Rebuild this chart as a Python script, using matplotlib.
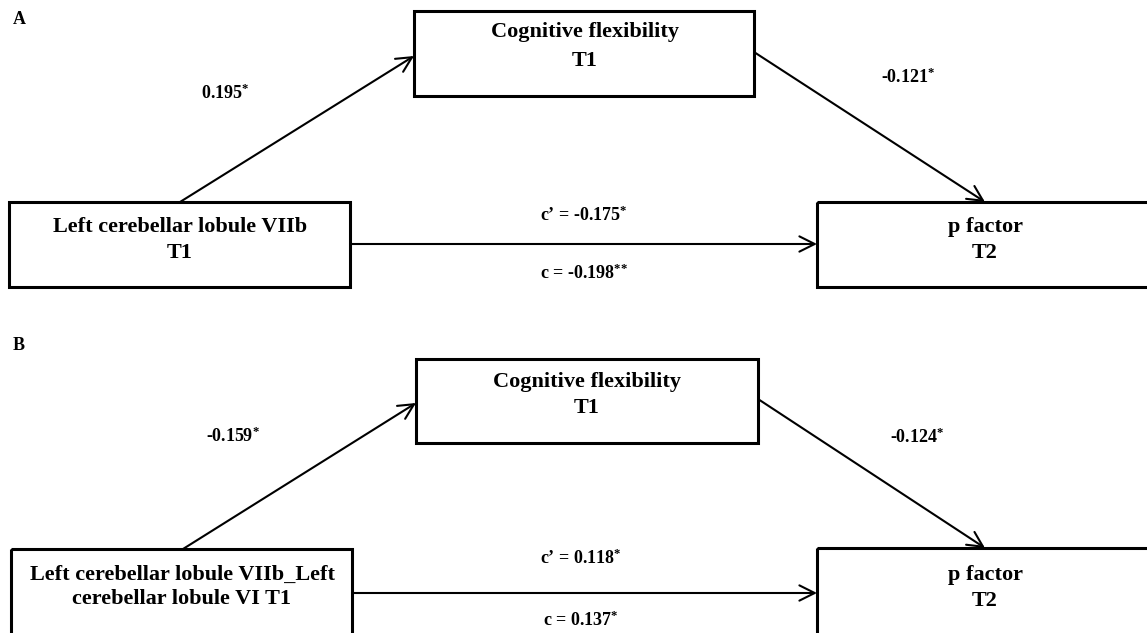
import matplotlib
matplotlib.use('Agg')
import matplotlib.pyplot as plt
from matplotlib.patches import Rectangle, FancyArrowPatch

plt.rcParams['font.family'] = ['Liberation Serif', 'DejaVu Serif']
plt.rcParams['font.weight'] = 'bold'
plt.rcParams['mathtext.fontset'] = 'custom'
plt.rcParams['mathtext.rm'] = 'Liberation Serif:bold'
plt.rcParams['mathtext.it'] = 'Liberation Serif:bold'
plt.rcParams['mathtext.bf'] = 'Liberation Serif:bold'

# mediation model values
panels = ['A', 'B']
predictors = ['Left cerebellar lobule VIIb\nT1',
              'Left cerebellar lobule VIIb_Left\ncerebellar lobule VI T1']
mediator = 'Cognitive flexibility\nT1'
outcome = 'p factor\nT2'
a_paths = [0.195, -0.159]
a_sig = ['*', '*']
b_paths = [-0.121, -0.124]
b_sig = ['*', '*']
c_prime = [-0.175, 0.118]
c_prime_sig = ['*', '*']
c_total = [-0.198, 0.137]
c_total_sig = ['**', '*']

W, H = 1147, 633
fig = plt.figure(figsize=(W / 100, H / 100), dpi=100)
ax = fig.add_axes([0, 0, 1, 1])
ax.set_xlim(0, W)
ax.set_ylim(H, 0)
ax.axis('off')

box_lw = 2.2
line_lw = 1.5
box_fs = 16
num_fs = 13


def coef(v, sig):
    # group each star so mathtext doesn't space them like operators
    stars = ''.join('{*}' for _ in sig)
    return f'{v:.3f}' + '$^{' + stars + '}$'


def box(x0, y0, x1, y1):
    ax.add_patch(Rectangle((x0, y0), x1 - x0, y1 - y0, fill=False,
                           edgecolor='black', linewidth=box_lw, zorder=3))


def arrow(p0, p1):
    ax.add_patch(FancyArrowPatch(p0, p1,
                                 arrowstyle='->,head_length=11,head_width=5.5',
                                 mutation_scale=1, shrinkA=0, shrinkB=0,
                                 color='black', linewidth=line_lw, zorder=2))


# layout per panel (pixel coords, y down)
label_y = [20, 345]
left_box = [(9, 202, 350, 287), (11, 549, 352, 700)]
mid_box = [(414, 11, 754, 96), (416, 359, 758, 443)]
out_box = [(817, 202, 1165, 287), (817, 548, 1165, 700)]
left_txt = [(180, 240), (182, 587)]
mid_txt = [(585, 47), (587, 395)]
out_txt = [(985, 240), (985, 588)]
left_ls = [1.45, 1.3]
mid_ls = [1.6, 1.4]
out_ls = [1.45, 1.4]
a_line = [((180, 202), (414, 56)), ((183, 549), (416, 403))]
b_line = [((754, 52), (985, 202)), ((758, 399), (985, 548))]
c_line = [((350, 244), (817, 244)), ((352, 593), (817, 593))]
a_pos = [(225, 93), (233, 436)]
b_pos = [(908, 77), (917, 437)]
cp_pos = [(584, 215), (581, 558)]
c_pos = [(584, 273), (581, 620)]

for i, p in enumerate(panels):
    ax.text(13, label_y[i], p, fontsize=13, ha='left', va='center')
    box(*left_box[i])
    box(*mid_box[i])
    box(*out_box[i])
    ax.text(*left_txt[i], predictors[i], fontsize=box_fs, ha='center',
            va='center', linespacing=left_ls[i])
    ax.text(*mid_txt[i], mediator, fontsize=box_fs, ha='center',
            va='center', linespacing=mid_ls[i])
    ax.text(*out_txt[i], outcome, fontsize=box_fs, ha='center',
            va='center', linespacing=out_ls[i])
    arrow(*a_line[i])
    arrow(*b_line[i])
    arrow(*c_line[i])
    ax.text(*a_pos[i], coef(a_paths[i], a_sig[i]), fontsize=num_fs,
            ha='center', va='center')
    ax.text(*b_pos[i], coef(b_paths[i], b_sig[i]), fontsize=num_fs,
            ha='center', va='center')
    ax.text(*cp_pos[i], 'c\u2019 = ' + coef(c_prime[i], c_prime_sig[i]),
            fontsize=num_fs, ha='center', va='center')
    ax.text(*c_pos[i], 'c = ' + coef(c_total[i], c_total_sig[i]),
            fontsize=num_fs, ha='center', va='center')

fig.savefig('out.png', dpi=100)
